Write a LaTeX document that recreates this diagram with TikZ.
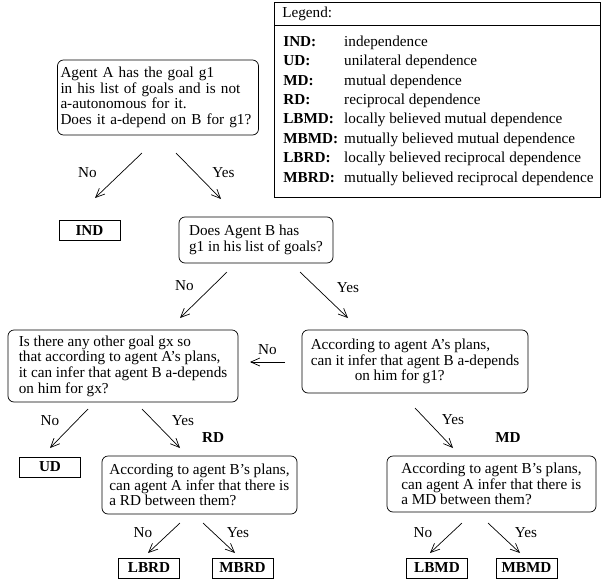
\documentclass[tikz,border=0pt]{standalone}
\usepackage{fontspec}
\setmainfont{Liberation Serif}
\usetikzlibrary{matrix,arrows.meta}
\tikzset{
  qbox/.style={draw,rounded corners=6pt,align=left,inner sep=0pt},
  leaf/.style={draw,line width=1pt,font=\bfseries,minimum width=61pt,minimum height=20pt,inner sep=0pt},
  arr/.style={-{Straight Barb[length=9pt,width=8pt]}},
  lbl/.style={inner sep=0pt},
  tag/.style={font=\bfseries,inner sep=0pt}
}
\newcommand\branch[5]{\coordinate(#1s) at #2; \coordinate(#1e) at #3; \draw[arr](#1s) -- node[lbl,#5]{#4} (#1e);}

\begin{document}
\fontsize{15.2pt}{15.6pt}\selectfont
\begin{tikzpicture}[x=1pt,y=-1pt,line width=0.7pt]
    \useasboundingbox (0,0) rectangle (602,581);
    \draw[line width=1pt] (274,2) rectangle (600.5,197);
    \draw[line width=1pt] (274,25) -- (600.5,25);
    \node(lh)[anchor=west,inner sep=0pt] at (282,14) {Legend:};
    \matrix(leg)[anchor=north west,inner sep=0pt,column sep=6pt,row sep=4.9pt,
        nodes={anchor=west,inner sep=0pt,text height=11pt,text depth=3.5pt}] at (283,35) {
 \node[tag]{IND:};  & \node{independence};                            \\
 \node[tag]{UD:};   & \node{unilateral dependence};                   \\
 \node[tag]{MD:};   & \node{mutual dependence};                       \\
 \node[tag]{RD:};   & \node{reciprocal dependence};                   \\
 \node[tag]{LBMD:}; & \node{locally believed mutual dependence};      \\
 \node[tag]{MBMD:}; & \node{mutually believed mutual dependence};     \\
 \node[tag]{LBRD:}; & \node{locally believed reciprocal dependence};  \\
 \node[tag]{MBRD:}; & \node{mutually believed reciprocal dependence}; \\
    };

    \node(qa)[qbox,text width=195pt,inner xsep=3pt,minimum height=75pt] at (158,97.5) {Agent A has the goal g1\\in his list of goals and is not\\a-autonomous for it.\\Does it a-depend on B for g1?};
    \node(qb)[qbox,minimum width=154pt,minimum height=46pt] at (256,240) {Does Agent B has\\g1 in his list of goals?};
    \node(qc)[qbox,minimum width=230pt,minimum height=72pt] at (123,366) {Is there any other goal gx so\\that according to agent A's plans,\\it can infer that agent B a-depends\\on him for gx?};
    \node(qd)[qbox,minimum width=226pt,minimum height=63pt] at (415,361.5) {According to agent A's plans,\\can it infer that agent B a-depends\\\hspace*{44pt}on him for g1?};
    \node(qe)[qbox,minimum width=195pt,minimum height=58pt] at (199.5,485) {According to agent B's plans,\\can agent A infer that there is\\a RD between them?};
    \node(qf)[qbox,minimum width=209pt,minimum height=56pt] at (491.5,484) {According to agent B's plans,\\can agent A infer that there is\\a MD between them?};

    \node(ind)[leaf] at (89.5,230.5) {IND};
    \node(ud)[leaf] at (50,467) {UD};
    \node(lbrd)[leaf] at (149,568) {LBRD};
    \node(mbrd)[leaf] at (242.5,568) {MBRD};
    \node(lbmd)[leaf] at (437,568) {LBMD};
    \node(mbmd)[leaf] at (526.5,568) {MBMD};
    \node(rd)[tag] at (213,438) {RD};
    \node(md)[tag] at (508,438) {MD};

    \branch{an}{(142,153)}{(95,198)}{No}{xshift=-31pt,yshift=3pt}
    \branch{ay}{(176,153)}{(221,199)}{Yes}{xshift=25pt,yshift=3pt}
    \branch{bn}{(227,272)}{(180,318)}{No}{xshift=-19pt,yshift=9pt}
    \branch{by}{(300,272)}{(348,318)}{Yes}{xshift=24pt,yshift=7pt}
    \branch{dn}{(285,362)}{(250,362)}{No}{yshift=12pt}
    \branch{cn}{(88,409)}{(50,448)}{No}{xshift=-19pt,yshift=8pt}
    \branch{cy}{(142,409)}{(180,448)}{Yes}{xshift=22pt,yshift=8pt}
    \branch{dy}{(415,408)}{(453,448)}{Yes}{xshift=19pt,yshift=8pt}
    \branch{en}{(180,523)}{(148,553)}{No}{xshift=-21pt,yshift=5pt}
    \branch{ey}{(203,523)}{(235,553)}{Yes}{xshift=19pt,yshift=5pt}
    \branch{fn}{(462,523)}{(430,553)}{No}{xshift=-23pt,yshift=5pt}
    \branch{fy}{(488,523)}{(520,553)}{Yes}{xshift=22pt,yshift=5pt}
\end{tikzpicture}
\end{document}
